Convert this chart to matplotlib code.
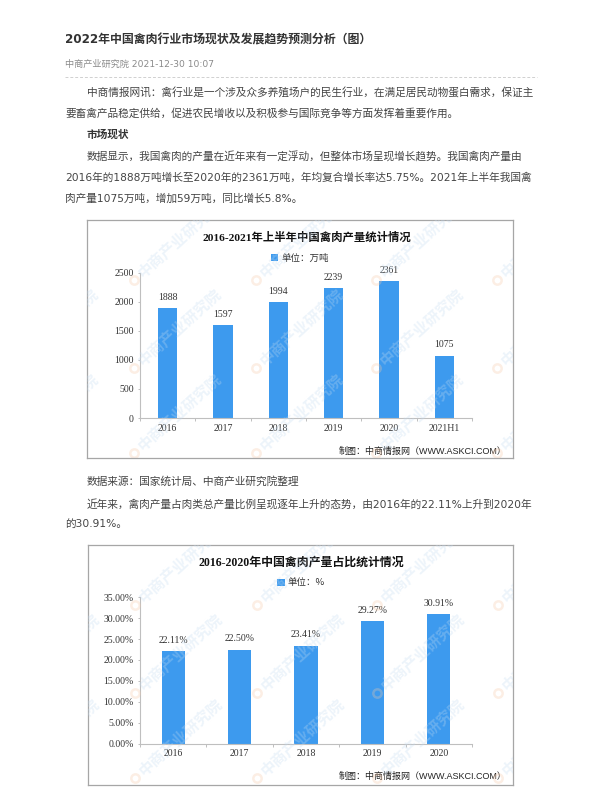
import numpy as np
import matplotlib
matplotlib.use('Agg')
import matplotlib.pyplot as plt
from matplotlib.lines import Line2D
from matplotlib.ticker import FuncFormatter

plt.rcParams['font.family'] = ['DejaVu Sans', 'Noto Sans CJK SC']

# dados dos dois graficos
cats1 = ['2016', '2017', '2018', '2019', '2020', '2021H1']
vals1 = [1888, 1597, 1994, 2239, 2361, 1075]
yticks1 = [0, 500, 1000, 1500, 2000, 2500]

cats2 = ['2016', '2017', '2018', '2019', '2020']
vals2 = [22.11, 22.50, 23.41, 29.27, 30.91]
yticks2 = [0, 5, 10, 15, 20, 25, 30, 35]

W, H = 600, 800
BLUE = '#3d9aee'
TXT = '#444444'
NUMF = ['Liberation Serif', 'Noto Sans CJK SC']
CJK = ['Noto Sans CJK SC', 'DejaVu Sans']


def fx(x):
    return x / W


def fy(y):
    return 1 - y / H


def rect(l, t, r, b):
    return [l / W, 1 - b / H, (r - l) / W, (b - t) / H]


fig = plt.figure(figsize=(6, 8), dpi=100)
fig.patch.set_facecolor('white')

# texto do artigo
fig.text(fx(65), fy(40), '2022年中国禽肉行业市场现状及发展趋势预测分析（图）',
         fontsize=8.6, fontweight='bold', color='#333333', va='center')
fig.text(fx(65), fy(64), '中商产业研究院 2021-12-30 10:07',
         fontsize=6.6, color='#8a8a8a', va='center')
fig.add_artist(Line2D([fx(65), fx(537)], [fy(77), fy(77)], color='#d0d0d0',
                      lw=0.7, linestyle=(0, (3, 2))))

body = [
    (87, 93, '中商情报网讯：禽行业是一个涉及众多养殖场户的民生行业，在满足居民动物蛋白需求，保证主'),
    (65, 113, '要畜禽产品稳定供给，促进农民增收以及积极参与国际竞争等方面发挥着重要作用。'),
    (87, 157, '数据显示，我国禽肉的产量在近年来有一定浮动，但整体市场呈现增长趋势。我国禽肉产量由'),
    (65, 178, '2016年的1888万吨增长至2020年的2361万吨，年均复合增长率达5.75%。2021年上半年我国禽'),
    (65, 199, '肉产量1075万吨，增加59万吨，同比增长5.8%。'),
    (87, 481, '数据来源：国家统计局、中商产业研究院整理'),
    (87, 504, '近年来，禽肉产量占肉类总产量比例呈现逐年上升的态势，由2016年的22.11%上升到2020年'),
    (65, 524, '的30.91%。'),
]
for x, y, s in body:
    fig.text(fx(x), fy(y), s, fontsize=7.7, color=TXT, va='center')
fig.text(fx(87), fy(135), '市场现状', fontsize=7.7, fontweight='bold',
         color='#333333', va='center')


def chart(ax_box, frame_box, cats, vals, yticks, yfmt, lblfmt, title, title_xy,
          title_size, leg_label, leg_anchor, footer_xy):
    ax = fig.add_axes(rect(*ax_box))
    x = np.arange(len(cats))
    ax.bar(x, vals, width=0.35, color=BLUE, label=leg_label, zorder=2)
    for xi, v in zip(x, vals):
        ax.annotate(lblfmt(v), (xi, v), xytext=(0, 4.5), textcoords='offset points',
                    ha='center', va='bottom', fontsize=7, family=NUMF, color='#333333')
    ax.set_xlim(-0.5, len(cats) - 0.5)
    ax.set_ylim(yticks[0], yticks[-1])
    ax.set_yticks(yticks)
    ax.yaxis.set_major_formatter(FuncFormatter(lambda v, p: yfmt(v)))
    ax.set_xticks(x)
    ax.set_xticklabels(cats)
    ax.set_xticks(np.arange(len(cats) + 1) - 0.5, minor=True)
    for lab in ax.get_xticklabels() + ax.get_yticklabels():
        lab.set_family(NUMF)
        lab.set_fontsize(7)
        lab.set_color('#333333')
    ax.tick_params(axis='x', which='major', length=0, pad=4)
    ax.tick_params(axis='x', which='minor', length=2.5, color='#bfbfbf', width=0.7)
    ax.tick_params(axis='y', length=1.5, pad=3, color='#bfbfbf', width=0.7)
    for sp in ['top', 'right']:
        ax.spines[sp].set_visible(False)
    for sp in ['left', 'bottom']:
        ax.spines[sp].set_color('#bfbfbf')
        ax.spines[sp].set_linewidth(0.8)
    ax.set_facecolor('none')
    leg = ax.legend(loc='center', bbox_to_anchor=leg_anchor, frameon=False,
                    handlelength=0.75, handleheight=0.75, handletextpad=0.3,
                    prop={'family': CJK, 'size': 6.8})
    for t in leg.get_texts():
        t.set_color('#333333')

    fig.text(fx(title_xy[0]), fy(title_xy[1]), title, fontsize=title_size,
             fontweight='bold', family=NUMF, ha='center', va='center', color='#111111')
    fig.text(fx(footer_xy[0]), fy(footer_xy[1]), '制图：中商情报网（WWW.ASKCI.COM）',
             fontsize=6.5, family=['Liberation Sans', 'Noto Sans CJK SC'],
             ha='right', va='center', color='#222222')

    # moldura + marca d'agua por cima
    fr = fig.add_axes(rect(*frame_box), zorder=5)
    fr.set_xlim(0, frame_box[2] - frame_box[0])
    fr.set_ylim(frame_box[3] - frame_box[1], 0)
    fr.set_xticks([])
    fr.set_yticks([])
    fr.patch.set_alpha(0)
    for sp in fr.spines.values():
        sp.set_color('#a6a6a6')
        sp.set_linewidth(0.9)
    for ox in [-70, 53, 175, 295, 416]:
        for oy in [55, 143, 228]:
            fr.text(ox, oy, '中商产业研究院', fontsize=11, fontweight='bold',
                    family=CJK, color='#c3dbf1', alpha=0.3, rotation=42,
                    rotation_mode='anchor', ha='left', va='center', clip_on=True)
            fr.plot(ox - 6, oy + 5, 'o', ms=6, mfc='none', mec='#f6c9a8',
                    mew=1.8, alpha=0.3, clip_on=True)
    return ax


chart((140, 272.7, 472, 418), (87, 220, 513, 458), cats1, vals1, yticks1,
      lambda v: f'{v:.0f}', lambda v: f'{v:.0f}',
      '2016-2021年上半年中国禽肉产量统计情况', (307, 237), 8.2,
      '单位：万吨', (0.482, 1.10), (507, 451))

chart((140, 597.3, 472, 743.5), (88, 545, 513, 785), cats2, vals2, yticks2,
      lambda v: f'{v:.2f}%', lambda v: f'{v:.2f}%',
      '2016-2020年中国禽肉产量占比统计情况', (301, 563), 8.6,
      '单位：%', (0.485, 1.098), (507, 776))

plt.savefig('out.png', dpi=100)
